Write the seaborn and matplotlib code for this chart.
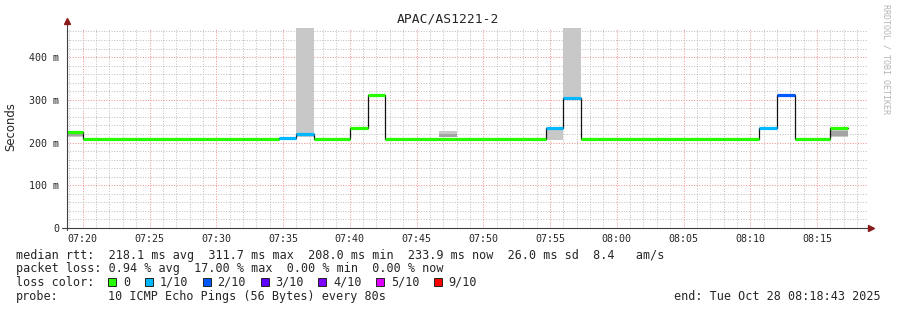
import matplotlib
matplotlib.use("Agg")
import matplotlib.pyplot as plt
import seaborn as sns
import pandas as pd
from matplotlib.patches import Rectangle

# ---------------- data ----------------
title = "APAC/AS1221-2"
y_label = "Seconds"
# one entry per 80 s probe step; step 0 starts at 07:20:00
step_index = list(range(-1, 43))
median_ms = [224,
             208, 208, 208, 208, 208, 208, 208, 208, 208, 208, 208,
             211, 221, 208, 208, 234, 311, 208, 208, 208, 208,
             208, 208, 208, 208, 208, 235, 305,
             208, 208, 208, 208, 208, 208, 208, 208, 208, 208,
             234, 311, 208, 208, 234]
loss_level = [0,
              0, 0, 0, 0, 0, 0, 0, 0, 0, 0, 0,
              1, 1, 0, 0, 0, 0, 0, 0, 0, 0,
              0, 0, 0, 0, 0, 1, 1,
              0, 0, 0, 0, 0, 0, 0, 0, 0, 0,
              1, 2, 0, 0, 0]
loss_names = ["0", "1/10", "2/10", "3/10", "4/10", "5/10", "9/10"]
loss_colors = ["#26ff00", "#00b8ff", "#0059ff", "#5e00ff", "#7e00ff", "#dd00ff", "#ff0000"]

smoke_step = [-1, 12, 20, 26, 27, 42]
smoke_low = [213, 214, 212, 207, 305, 213]
smoke_high = [227, 470, 226, 235, 470, 234]
core_step = [-1, 12, 20, 42]
core_low = [215, 215, 214, 216]
core_high = [222, 219, 219, 228]

x_tick_pos = [20, 25, 30, 35, 40, 45, 50, 55, 60, 65, 70, 75]   # minutes after 07:00
x_tick_labels = ["07:20", "07:25", "07:30", "07:35", "07:40", "07:45",
                 "07:50", "07:55", "08:00", "08:05", "08:10", "08:15"]
y_ticks = [0, 100, 200, 300, 400]
y_tick_labels = ["0", "100 m", "200 m", "300 m", "400 m"]

rtt_avg, rtt_max, rtt_min, rtt_now, rtt_sd, am_s = 218.1, 311.7, 208.0, 233.9, 26.0, 8.4
loss_avg, loss_max, loss_min, loss_now = 0.94, 17.00, 0.00, 0.00
probe_text = "10 ICMP Echo Pings (56 Bytes) every 80s"
end_text = "end: Tue Oct 28 08:18:43 2025"
credit = "RRDTOOL / TOBI OETIKER"

# ---------------- layout ----------------
sns.set_style("white")
MONO = "DejaVu Sans Mono"
plt.rcParams["font.family"] = [MONO]

W, H = 897, 310
fig = plt.figure(figsize=(W / 100, H / 100), dpi=100)
fig.patch.set_facecolor("white")
L, R, T, B = 67, 868, 28, 228
ax = fig.add_axes([L / W, (H - B) / H, (R - L) / W, (B - T) / H])

t0 = 20.0
step_min = 80 / 60
x_start = 18.82
ax.set_xlim(x_start, x_start + 60)
ax.set_ylim(0, 468)

def xs(i):
    return t0 + i * step_min

# grid
minor_x = [m for m in range(19, 79)]
ax.set_xticks(minor_x, minor=True)
ax.set_yticks(list(range(0, 468, 20)), minor=True)
ax.set_xticks(x_tick_pos)
ax.set_xticklabels(x_tick_labels)
ax.set_yticks(y_ticks)
ax.set_yticklabels(y_tick_labels)
ax.grid(which="minor", color="#c0c0c0", linestyle=(0, (1, 1.6)), linewidth=0.72)
ax.grid(which="major", color="#ee9090", linestyle=(0, (1, 1.6)), linewidth=0.72)
ax.set_axisbelow(True)
ax.tick_params(axis="x", which="major", length=0, pad=4, labelsize=7.2)
ax.tick_params(axis="y", which="major", length=3, width=0.7, color="#404040", pad=2.5, labelsize=7.2)
ax.tick_params(which="minor", length=0)
for s in ax.spines.values():
    s.set_visible(False)

# smoke
ax.bar([xs(i) for i in smoke_step], [h - l for l, h in zip(smoke_low, smoke_high)],
       bottom=smoke_low, width=step_min, align="edge", color="#c8c8c8", linewidth=0, zorder=2)
ax.bar([xs(i) for i in core_step], [h - l for l, h in zip(core_low, core_high)],
       bottom=core_low, width=step_min, align="edge", color="#a4a4a4", linewidth=0, zorder=2)

# black median step line
line_df = pd.DataFrame({"x": [xs(i) for i in step_index] + [xs(step_index[-1] + 1)],
                        "y": median_ms + [median_ms[-1]]})
sns.lineplot(data=line_df, x="x", y="y", ax=ax, color="#111111", linewidth=0.9,
             drawstyle="steps-post", estimator=None, sort=False, zorder=3)

# coloured median segments
rows = []
for i, v, lv in zip(step_index, median_ms, loss_level):
    rows.append({"x": xs(i), "y": v, "loss": loss_names[lv], "seg": i})
    rows.append({"x": xs(i + 1), "y": v, "loss": loss_names[lv], "seg": i})
seg_df = pd.DataFrame(rows)
pal = dict(zip(loss_names, loss_colors))
sns.lineplot(data=seg_df, x="x", y="y", hue="loss", units="seg", estimator=None,
             palette=pal, linewidth=2.3, legend=False, ax=ax, zorder=4,
             solid_capstyle="butt")
ax.set_xlabel("")
ax.set_ylabel("")

# axes with arrows
axis_col = "#404040"
ax.plot([0, 0], [-0.01, 1.035], transform=ax.transAxes, color=axis_col, lw=0.8, clip_on=False, zorder=5)
ax.plot([-0.006, 1.004], [0, 0], transform=ax.transAxes, color=axis_col, lw=0.8, clip_on=False, zorder=5)
ax.plot([0], [1.035], marker="^", color="#8b1a1a", ms=4, transform=ax.transAxes, clip_on=False, zorder=6)
ax.plot([1.004], [0], marker=">", color="#8b1a1a", ms=4, transform=ax.transAxes, clip_on=False, zorder=6)

# ---------------- texts ----------------
def fx(px):
    return px / W

def fy(py):
    return 1 - py / H

fig.text(fx(448), fy(19), title, ha="center", va="center", fontsize=9.4, family=MONO)
fig.text(fx(11), fy(127), y_label, ha="center", va="center", rotation=90,
         fontsize=8.4, family="DejaVu Sans")
fig.text(fx(886), fy(59), credit, ha="center", va="center", rotation=270,
         fontsize=6.0, color="#b4b4b4", family=MONO)

FS = 8.5
line1 = (f"median rtt:  {rtt_avg:.1f} ms avg  {rtt_max:.1f} ms max  {rtt_min:.1f} ms min  "
         f"{rtt_now:.1f} ms now  {rtt_sd:.1f} ms sd  {am_s:.1f}   am/s")
line2 = (f"packet loss: {loss_avg:.2f} % avg  {loss_max:.2f} % max  {loss_min:.2f} % min  "
         f"{loss_now:.2f} % now")
fig.text(fx(16), fy(255), line1, ha="left", va="center", fontsize=FS, family=MONO)
fig.text(fx(16), fy(268.5), line2, ha="left", va="center", fontsize=FS, family=MONO)
fig.text(fx(16), fy(282), "loss color:", ha="left", va="center", fontsize=FS, family=MONO)
fig.text(fx(16), fy(296.5), "probe:", ha="left", va="center", fontsize=FS, family=MONO)
fig.text(fx(107.5), fy(296.5), probe_text, ha="left", va="center", fontsize=FS, family=MONO)
fig.text(fx(881), fy(296.5), end_text, ha="right", va="center", fontsize=FS, family=MONO)

bx = 108.3
for name, col in zip(loss_names, loss_colors):
    fig.add_artist(Rectangle((fx(bx), fy(286)), 8 / W, 8 / H, transform=fig.transFigure,
                             facecolor=col, edgecolor="#222222", linewidth=0.7))
    lx = bx + 14.7
    fig.text(fx(lx), fy(282), name, ha="left", va="center", fontsize=FS, family=MONO)
    bx = lx + len(name) * 7.02 + 15

fig.savefig("out.png", dpi=100, facecolor="white")
